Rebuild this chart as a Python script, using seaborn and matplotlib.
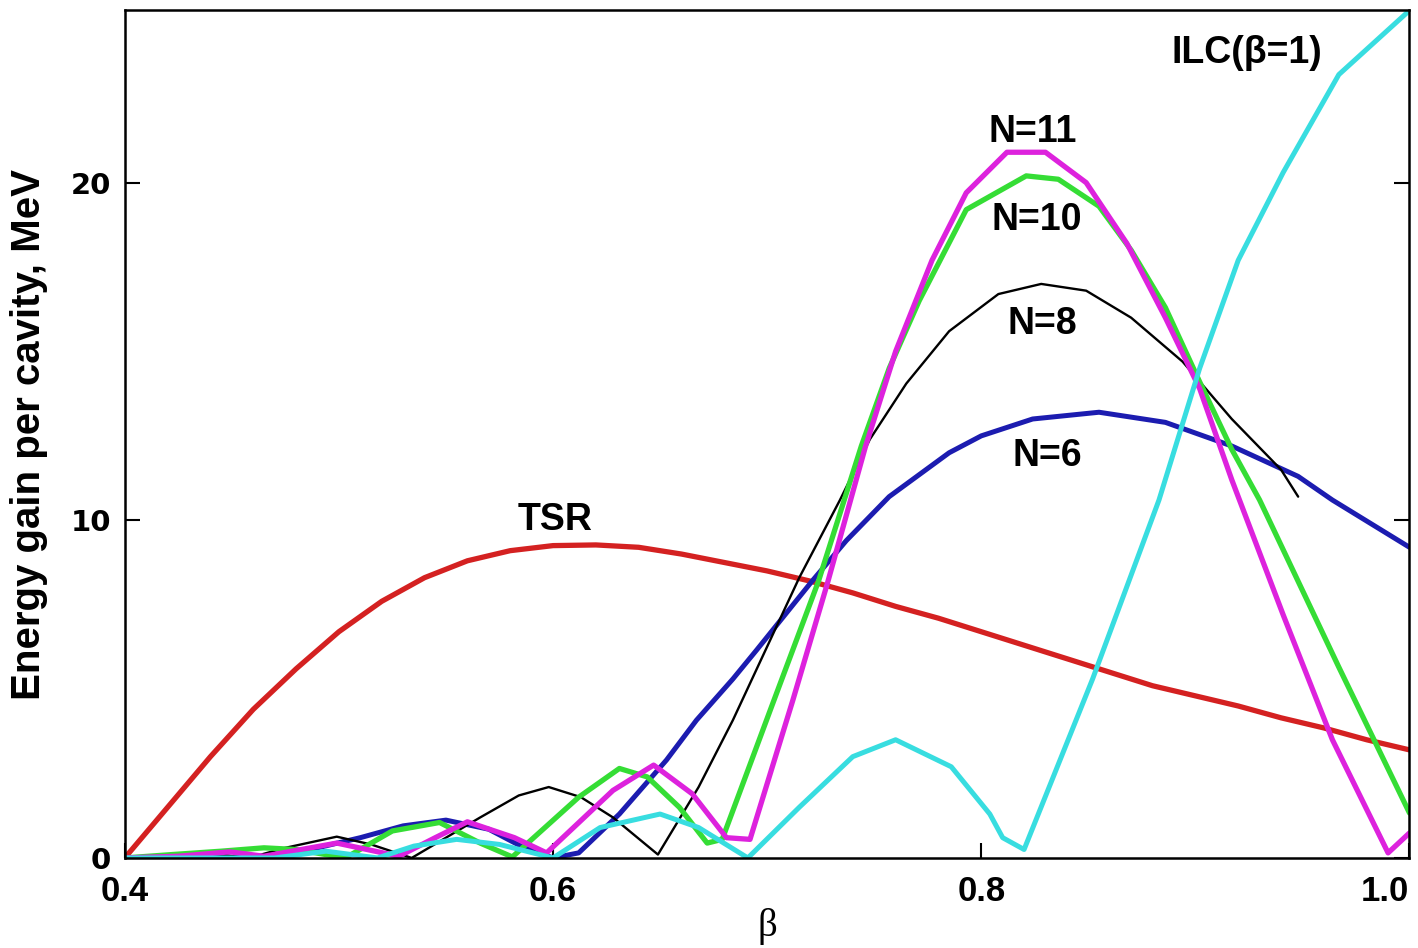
import numpy as np
import pandas as pd
import matplotlib
matplotlib.use("Agg")
import matplotlib.pyplot as plt
import seaborn as sns

# ---------------- data ----------------
tsr_x = [0.40, 0.42, 0.44, 0.46, 0.48, 0.50, 0.52, 0.54, 0.56, 0.58, 0.60, 0.62, 0.64, 0.66,
         0.68, 0.70, 0.72, 0.74, 0.76, 0.78, 0.80, 0.82, 0.84, 0.86, 0.88, 0.90, 0.92, 0.94,
         0.96, 0.98, 1.00]
tsr_y = [0.0, 1.5, 3.0, 4.4, 5.6, 6.7, 7.6, 8.3, 8.8, 9.1, 9.25, 9.27, 9.2, 9.0,
         8.75, 8.5, 8.2, 7.85, 7.45, 7.1, 6.7, 6.3, 5.9, 5.5, 5.1, 4.8, 4.5, 4.15,
         3.85, 3.5, 3.2]

n6_x = [0.40, 0.43, 0.46, 0.49, 0.51, 0.53, 0.55, 0.57, 0.585, 0.60, 0.612, 0.631, 0.653,
        0.667, 0.684, 0.695, 0.721, 0.737, 0.757, 0.785, 0.80, 0.824, 0.855, 0.886, 0.917,
        0.948, 0.964, 1.00]
n6_y = [0.0, 0.05, 0.0, 0.3, 0.6, 0.95, 1.12, 0.85, 0.35, 0.0, 0.15, 1.3, 2.9,
        4.08, 5.3, 6.15, 8.2, 9.4, 10.7, 12.0, 12.5, 13.0, 13.2, 12.9, 12.2,
        11.3, 10.6, 9.2]

n8_x = [0.40, 0.434, 0.458, 0.475, 0.499, 0.515, 0.534, 0.55, 0.566, 0.584, 0.598, 0.613,
        0.628, 0.649, 0.668, 0.684, 0.715, 0.734, 0.748, 0.765, 0.785, 0.808, 0.828, 0.849,
        0.87, 0.894, 0.917, 0.94, 0.948]
n8_y = [0.0, 0.17, 0.0, 0.3, 0.63, 0.4, 0.0, 0.6, 1.2, 1.85, 2.1, 1.8,
        1.2, 0.1, 2.1, 4.08, 8.3, 10.6, 12.4, 14.05, 15.6, 16.7, 17.0, 16.8,
        16.0, 14.7, 13.0, 11.5, 10.7]

n10_x = [0.40, 0.422, 0.445, 0.465, 0.48, 0.503, 0.525, 0.547, 0.566, 0.581, 0.612, 0.631,
         0.644, 0.659, 0.672, 0.679, 0.701, 0.724, 0.744, 0.757, 0.771, 0.793, 0.821, 0.836,
         0.855, 0.87, 0.886, 0.902, 0.917, 0.93, 0.967, 1.00]
n10_y = [0.0, 0.1, 0.2, 0.3, 0.25, 0.0, 0.8, 1.05, 0.44, 0.03, 1.8, 2.65,
         2.4, 1.5, 0.44, 0.55, 4.3, 8.2, 12.2, 14.5, 16.5, 19.2, 20.2, 20.1,
         19.3, 18.0, 16.3, 14.1, 12.1, 10.6, 5.65, 1.33]

n11_x = [0.40, 0.425, 0.449, 0.465, 0.499, 0.528, 0.545, 0.56, 0.582, 0.597, 0.628, 0.647,
         0.665, 0.681, 0.692, 0.712, 0.728, 0.746, 0.76, 0.777, 0.793, 0.812, 0.83, 0.849,
         0.868, 0.886, 0.902, 0.917, 0.941, 0.964, 0.99, 1.00]
n11_y = [0.0, 0.05, 0.18, 0.05, 0.44, 0.05, 0.6, 1.07, 0.6, 0.15, 2.0, 2.75,
         1.9, 0.6, 0.55, 4.67, 8.1, 12.2, 15.0, 17.7, 19.7, 20.9, 20.9, 20.0,
         18.2, 16.0, 13.9, 11.2, 7.2, 3.5, 0.15, 0.74]

ilc_x = [0.40, 0.47, 0.494, 0.518, 0.535, 0.555, 0.575, 0.60, 0.622, 0.65, 0.668, 0.691,
         0.715, 0.74, 0.76, 0.786, 0.804, 0.81, 0.82, 0.852, 0.883, 0.902, 0.92, 0.941,
         0.967, 1.00]
ilc_y = [0.0, 0.0, 0.2, 0.0, 0.35, 0.55, 0.4, 0.0, 0.9, 1.3, 0.9, 0.0,
         1.5, 3.0, 3.5, 2.7, 1.3, 0.6, 0.25, 5.3, 10.6, 14.5, 17.7, 20.3,
         23.2, 25.1]

series_names = ["TSR", "N=6", "N=8", "N=10", "N=11", "ILC(β=1)"]
x_ticks = [0.4, 0.6, 0.8, 1.0]
x_tick_labels = ["0.4", "0.6", "0.8", "1.0"]
y_ticks = [0, 10, 20]
y_tick_labels = ["0", "10", "20"]

# label anchor positions (data coords)
label_x = [0.601, 0.831, 0.8285, 0.826, 0.824, 0.924]
label_y = [10.0, 11.9, 15.8, 18.9, 21.5, 23.85]

# ---------------- plotting ----------------
sns.set_theme(style="white")
plt.rcParams['font.family'] = ['Liberation Sans', 'DejaVu Sans']

fig = plt.figure(figsize=(14.18, 9.48), dpi=100)
ax = fig.add_axes([0.088, 0.095, 0.906, 0.894])

data = {
    "TSR": (tsr_x, tsr_y),
    "N=6": (n6_x, n6_y),
    "N=8": (n8_x, n8_y),
    "N=10": (n10_x, n10_y),
    "N=11": (n11_x, n11_y),
    "ILC(β=1)": (ilc_x, ilc_y),
}
colors = {"TSR": "#d42121", "N=6": "#1c1cb0", "N=8": "#000000",
          "N=10": "#35dd35", "N=11": "#dd22dd", "ILC(β=1)": "#38dde0"}
widths = {"TSR": 3.8, "N=6": 3.6, "N=8": 1.7, "N=10": 3.8, "N=11": 3.8, "ILC(β=1)": 3.6}
order = ["TSR", "N=6", "N=8", "N=10", "N=11", "ILC(β=1)"]

for name in order:
    xs, ys = data[name]
    df = pd.DataFrame({"beta": xs, "gain": ys})
    sns.lineplot(data=df, x="beta", y="gain", ax=ax, color=colors[name],
                 linewidth=widths[name], sort=False, estimator=None,
                 solid_joinstyle="round", solid_capstyle="round")

for name, lx, ly in zip(series_names, label_x, label_y):
    ax.text(lx, ly, name, ha="center", va="center", fontsize=27,
            fontweight="bold", color="black")

ax.set_xlim(0.4, 1.0)
ax.set_ylim(0, 25.1)
ax.set_xticks(x_ticks)
ax.set_xticklabels(x_tick_labels)
ax.set_yticks(y_ticks)
ax.set_yticklabels(y_tick_labels)

xlabs = ax.get_xticklabels()
for lab in xlabs:
    lab.set_fontfamily(['Liberation Sans Narrow', 'Liberation Sans', 'DejaVu Sans'])
    lab.set_fontweight("bold")
    lab.set_fontsize(25)
    lab.set_color("black")
xlabs[-1].set_horizontalalignment("right")
for lab in ax.get_yticklabels():
    lab.set_fontfamily(['DejaVu Sans'])
    lab.set_fontweight("bold")
    lab.set_fontsize(21)
    lab.set_color("black")

ax.tick_params(axis="both", direction="in", length=11, width=1.5, color="black",
               right=True, top=False, left=True, bottom=True)
ax.tick_params(axis="x", pad=12)
ax.tick_params(axis="y", pad=10)

ax.set_xlabel("β", fontsize=28, family=['Liberation Serif', 'DejaVu Serif'],
              labelpad=0, color="black")
ax.set_ylabel("Energy gain per cavity, MeV", fontsize=29, fontweight="bold",
              family=['Liberation Sans Narrow', 'Liberation Sans', 'DejaVu Sans'],
              labelpad=16, color="black")

for sp in ax.spines.values():
    sp.set_color("black")
    sp.set_linewidth(1.8)
ax.grid(False)

fig.savefig("out.png", dpi=100, facecolor="white")
